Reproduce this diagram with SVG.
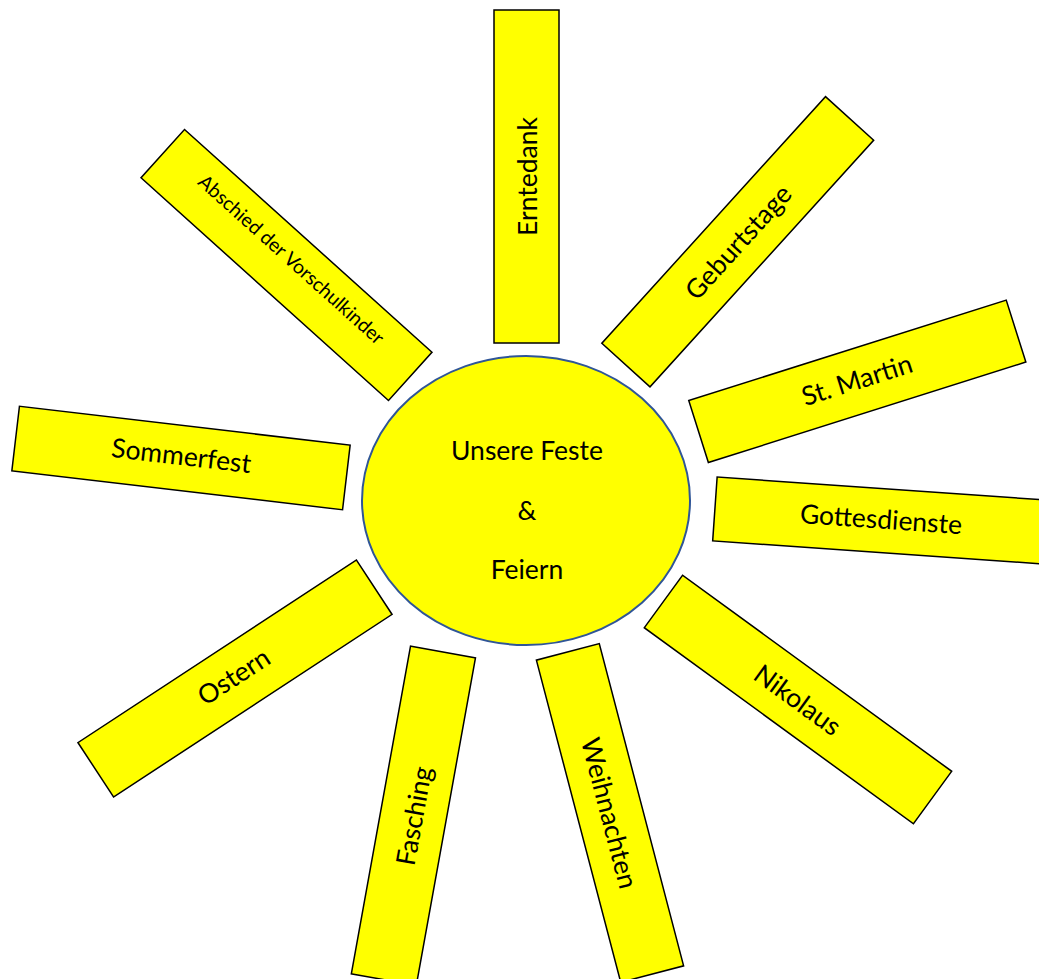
<svg xmlns="http://www.w3.org/2000/svg" width="1039" height="979" viewBox="0 0 1039 979">
<style>
.ray{fill:#FFFF00;stroke:#000;stroke-width:1.5}
.hub{fill:#FFFF00;stroke:#2F5597;stroke-width:2}
text{font-family:Lato,"Open Sans",sans-serif;font-size:26.5px;fill:#000;text-anchor:middle;dominant-baseline:central}
.small{font-size:19.4px}
</style>
<rect width="1039" height="979" fill="#fff"/>
<g id="erntedank" transform="translate(526.5,176.5) rotate(-90)"><rect class="ray" x="-166.5" y="-32.5" width="333" height="65"/><text x="0" y="0">Erntedank</text></g>
<g id="geburtstage" transform="translate(737.75,241.75) rotate(-47.8)"><rect class="ray" x="-166.5" y="-32.5" width="333" height="65"/><text x="0" y="0">Geburtstage</text></g>
<g id="abschied" transform="translate(286.5,265) rotate(42)"><rect class="ray" x="-166.5" y="-32.5" width="333" height="65"/><text class="small" x="0" y="-8">Abschied der Vorschulkinder</text></g>
<g id="st-martin" transform="translate(857.3,381.3) rotate(-17.56)"><rect class="ray" x="-166.5" y="-32.5" width="333" height="65"/><text x="0" y="-2">St. Martin</text></g>
<g id="sommerfest" transform="translate(181,458) rotate(6.72)"><rect class="ray" x="-166.5" y="-32.5" width="333" height="65"/><text x="0" y="-3">Sommerfest</text></g>
<g id="gottesdienste" transform="translate(881,520.6) rotate(4)"><rect class="ray" x="-166.5" y="-32" width="333" height="64"/><text x="0" y="-2">Gottesdienste</text></g>
<g id="ostern" transform="translate(235,678.5) rotate(-33.26)"><rect class="ray" x="-166.5" y="-32.5" width="333" height="65"/><text x="0" y="-3">Ostern</text></g>
<g id="fasching" transform="translate(413.4,815.8) rotate(-79.76)"><rect class="ray" x="-166.5" y="-33" width="333" height="66"/><text x="0" y="0">Fasching</text></g>
<g id="weihnachten" transform="translate(610,813) rotate(75.33)"><rect class="ray" x="-166.5" y="-32.5" width="333" height="65"/><text x="0" y="0">Weihnachten</text></g>
<g id="nikolaus" transform="translate(798,699.5) rotate(36.08)"><rect class="ray" x="-166.5" y="-32.5" width="333" height="65"/><text x="0" y="0">Nikolaus</text></g>
<g id="center"><ellipse class="hub" cx="526" cy="500.5" rx="164" ry="144.5"/><text x="527" y="450">Unsere Feste</text><text x="527" y="510">&amp;</text><text x="527" y="569">Feiern</text></g>
<g id="connectors"/>
</svg>
